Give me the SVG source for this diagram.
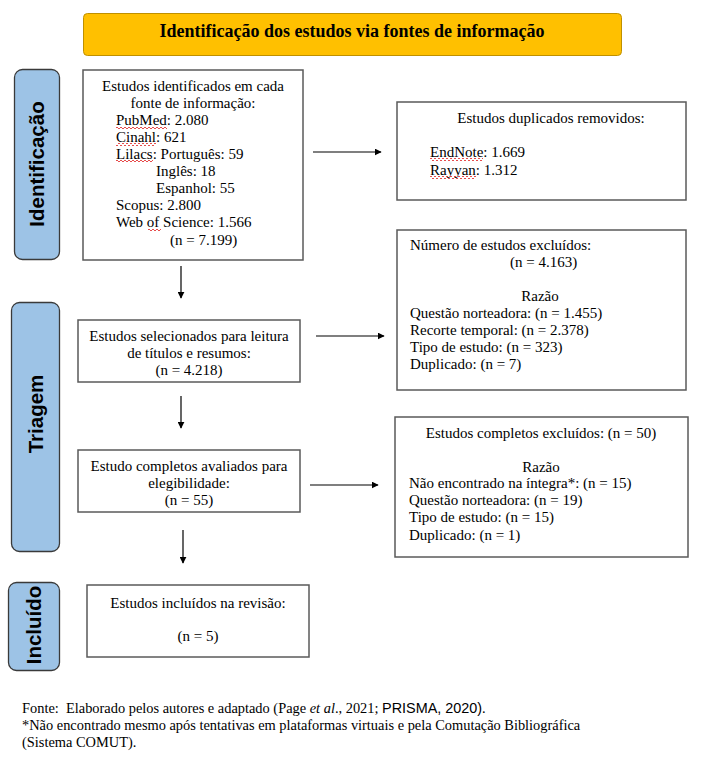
<svg xmlns="http://www.w3.org/2000/svg" width="703" height="767" viewBox="0 0 703 767">
<style>
.t{font-family:"Liberation Serif","Times New Roman",serif;font-size:15px;fill:#000}
.f{font-family:"Liberation Serif","Times New Roman",serif;font-size:14.4px;fill:#000}
.c{text-anchor:middle}
.box{fill:#fff;stroke:#5a5a5a;stroke-width:1.5}
.side{fill:#9DC3E6;stroke:#3a3a3a;stroke-width:1.3}
.sl{font-family:"Liberation Sans",Arial,sans-serif;font-weight:bold;font-size:20.5px;fill:#000;text-anchor:middle}
.ar{stroke:#000;stroke-width:1.2;fill:none;marker-end:url(#ah)}
.sq{fill:url(#wave)}
</style>
<defs>
<marker id="ah" viewBox="0 0 10 10" refX="9" refY="5" markerWidth="7" markerHeight="7" orient="auto" markerUnits="userSpaceOnUse">
<path d="M0,0 L10,5 L0,10 z" fill="#000"/>
</marker>
<pattern id="wave" width="4" height="3" patternUnits="userSpaceOnUse">
<path d="M0,2 Q1,0 2,2 T4,2" fill="none" stroke="#e02020" stroke-width="0.8"/>
</pattern>
</defs>
<rect width="703" height="767" fill="#fff"/>

<g id="title">
<rect x="83.5" y="13.5" width="538" height="42" rx="4" fill="#FFC000" stroke="#BF9000" stroke-width="1"/>
<text x="352" y="37" class="t c" style="font-weight:bold;font-size:18px">Identificação dos estudos via fontes de informação</text>
</g>

<g id="side-identificacao">
<rect x="14.5" y="69.5" width="45" height="190" rx="8" class="side"/>
<text class="sl" transform="translate(44,164) rotate(-90)">Identificação</text>
</g>
<g id="side-triagem">
<rect x="11.5" y="302.5" width="48" height="249" rx="8" class="side"/>
<text class="sl" transform="translate(43,414) rotate(-90)">Triagem</text>
</g>
<g id="side-incluido">
<rect x="8.5" y="582.5" width="51" height="88" rx="8" class="side"/>
<text class="sl" transform="translate(41,625) rotate(-90)">Incluído</text>
</g>

<g id="identificados">
<rect x="83" y="70" width="220" height="190" class="box"/>
<text class="t c" x="193" y="91">Estudos identificados em cada</text>
<text class="t c" x="193" y="108">fonte de informação:</text>
<text class="t" x="116" y="125">PubMed: 2.080</text>
<text class="t" x="116" y="142">Cinahl: 621</text>
<text class="t" x="116" y="159">Lilacs: Português: 59</text>
<text class="t" x="156" y="176">Inglês: 18</text>
<text class="t" x="156" y="193">Espanhol: 55</text>
<text class="t" x="116" y="210">Scopus: 2.800</text>
<text class="t" x="116" y="227">Web of Science: 1.566</text>
<text class="t" x="170" y="245">(n = 7.199)</text>
<rect class="sq" x="116" y="126" width="51" height="3"/>
<rect class="sq" x="116" y="143" width="40" height="3"/>
<rect class="sq" x="116" y="160" width="37" height="3"/>
<rect class="sq" x="148" y="228" width="13" height="3"/>
</g>

<g id="duplicados">
<rect x="397" y="102" width="289" height="98" class="box"/>
<text class="t c" x="551" y="123">Estudos duplicados removidos:</text>
<text class="t" x="430" y="157">EndNote: 1.669</text>
<text class="t" x="430" y="175">Rayyan: 1.312</text>
<rect class="sq" x="430" y="158" width="53" height="3"/>
<rect class="sq" x="430" y="176" width="46" height="3"/>
</g>

<g id="excluidos1">
<rect x="397" y="230" width="289" height="160" class="box"/>
<text class="t" x="410" y="250">Número de estudos excluídos:</text>
<text class="t" x="510" y="267">(n = 4.163)</text>
<text class="t c" x="540" y="301">Razão</text>
<text class="t" x="410" y="318">Questão norteadora: (n = 1.455)</text>
<text class="t" x="410" y="335">Recorte temporal: (n = 2.378)</text>
<text class="t" x="410" y="352">Tipo de estudo: (n = 323)</text>
<text class="t" x="410" y="369">Duplicado: (n = 7)</text>
</g>

<g id="selecionados">
<rect x="78" y="320" width="222" height="62" class="box"/>
<text class="t c" x="189" y="341">Estudos selecionados para leitura</text>
<text class="t c" x="189" y="358">de títulos e resumos:</text>
<text class="t c" x="189" y="375">(n = 4.218)</text>
</g>

<g id="completos">
<rect x="78" y="450" width="222" height="62" class="box"/>
<text class="t c" x="189" y="471">Estudo completos avaliados para</text>
<text class="t c" x="189" y="488">elegibilidade:</text>
<text class="t c" x="189" y="505">(n = 55)</text>
</g>

<g id="excluidos2">
<rect x="395" y="417" width="293" height="140" class="box"/>
<text class="t c" x="541" y="438">Estudos completos excluídos: (n = 50)</text>
<text class="t c" x="541" y="472">Razão</text>
<text class="t" x="409" y="488">Não encontrado na íntegra*: (n = 15)</text>
<text class="t" x="409" y="505">Questão norteadora: (n = 19)</text>
<text class="t" x="409" y="522">Tipo de estudo: (n = 15)</text>
<text class="t" x="409" y="540">Duplicado: (n = 1)</text>
</g>

<g id="incluidos">
<rect x="87" y="585" width="222" height="72" class="box"/>
<text class="t c" x="198" y="608">Estudos incluídos na revisão:</text>
<text class="t c" x="198" y="641">(n = 5)</text>
</g>

<g id="connectors">
<line class="ar" x1="313" y1="152" x2="381" y2="152"/>
<line class="ar" x1="316" y1="336" x2="384" y2="336"/>
<line class="ar" x1="310" y1="485" x2="378" y2="485"/>
<line class="ar" x1="181" y1="266" x2="181" y2="298"/>
<line class="ar" x1="181" y1="396" x2="181" y2="428"/>
<line class="ar" x1="183" y1="530" x2="183" y2="563"/>
</g>

<g id="footer">
<text class="f" x="22" y="713" xml:space="preserve">Fonte:  Elaborado pelos autores e adaptado (Page <tspan font-style="italic">et al</tspan>., 2021; <tspan style="font-family:'Liberation Sans',Arial,sans-serif">PRISMA, 2020)</tspan>.</text>
<text class="f" x="22" y="730">*Não encontrado mesmo após tentativas em plataformas virtuais e pela Comutação Bibliográfica</text>
<text class="f" x="22" y="747">(Sistema COMUT).</text>
</g>
</svg>
